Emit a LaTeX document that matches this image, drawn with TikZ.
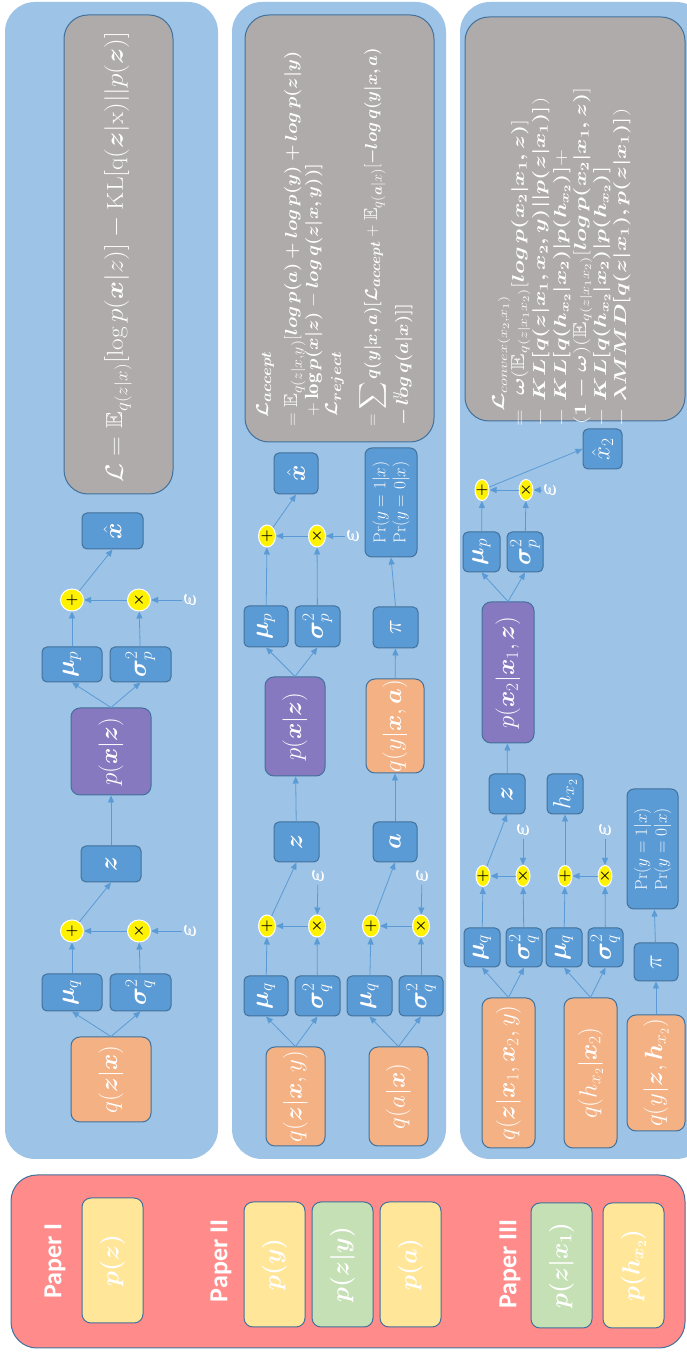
\documentclass[tikz,border=0pt]{standalone}
\usepackage{amsmath,amssymb,bm}
\usepackage{fontspec}
\newfontfamily\papersf{Carlito}
\usetikzlibrary{shapes.geometric, arrows.meta}
\definecolor{panelblue}{HTML}{9DC3E6}
\definecolor{nodeblue}{HTML}{5B9BD5}
\definecolor{edgeblue}{HTML}{41719C}
\definecolor{lossgray}{HTML}{AFABAB}
\definecolor{encorange}{HTML}{F4B183}
\definecolor{decpurple}{HTML}{8679C0}
\definecolor{priorred}{HTML}{FF8B8B}
\definecolor{prioryellow}{HTML}{FFE699}
\definecolor{priorgreen}{HTML}{C5E0B4}
\tikzset{
    wh/.style 2 args={minimum width=#1pt, minimum height=#2pt},
    panel/.style={rectangle, rounded corners=30pt, fill=panelblue, inner sep=0pt},
    lossbox/.style={rectangle, rounded corners=24pt, fill=lossgray, draw=edgeblue, line width=1pt, inner sep=0pt},
    losstext/.style={text=white, inner sep=0pt, anchor=base west},
    varbox/.style={rectangle, rounded corners=5pt, fill=nodeblue, draw=edgeblue, line width=1pt, inner sep=0pt, text=white, font=\fontsize{24}{26}\selectfont},
    encbox/.style={varbox, rounded corners=9pt, fill=encorange, font=\fontsize{23}{24}\selectfont},
    decbox/.style={varbox, rounded corners=9pt, fill=decpurple, font=\fontsize{23}{24}\selectfont},
    probbox/.style={varbox, rounded corners=7pt, align=center, font=\fontsize{17}{20}\selectfont},
    opnode/.style={ellipse, fill=yellow, draw=white, line width=1pt, inner sep=0pt},
    opsign/.style={inner sep=0pt, text=black, font=\fontsize{14}{14}\selectfont},
    plusop/.style={opnode, label={[opsign]center:$\bm{+}$}},
    timesop/.style={opnode, label={[opsign]center:$\bm{\times}$}},
    noise/.style={text=white, inner sep=2pt, font=\fontsize{30}{30}\selectfont},
    flow/.style={-{Triangle[length=7pt, width=6pt]}, nodeblue, line width=0.8pt},
    priorpanel/.style={rectangle, rounded corners=26pt, fill=priorred, draw=edgeblue, line width=1pt, inner sep=0pt},
    priorbox/.style={rectangle, rounded corners=9pt, draw=edgeblue, line width=1pt, wh={125}{61}, inner sep=0pt, text=white, font=\fontsize{24}{26}\selectfont},
    papertag/.style={text=white, inner sep=0pt, font=\papersf\bfseries\fontsize{26}{28}\selectfont},
}

\begin{document}
\begin{tikzpicture}[x=1pt, y=1pt]
\useasboundingbox (0,0) rectangle (686,1354);
\begin{scope}[shift={(686,0)}, rotate=90, transform shape]

% Backgrounds
\node[panel, wh={1157}{213}] (panelI) at (773.5,574.5) {};
\node[panel, wh={1157}{214}] (panelII) at (773.5,347) {};
\node[panel, wh={1157}{246}] (panelIII) at (773.5,103) {};
\node[priorpanel, wh={173}{674}] (priors) at (92.5,338) {};

% Priors per paper
\node[papertag] (tagI) at (93,631) {Paper I};
\node[priorbox, fill=prioryellow] (pz) at (93.5,573.5) {$\bm{p(z)}$};
\node[papertag] (tagII) at (93,465) {Paper II};
\node[priorbox, fill=prioryellow] (py) at (89.5,411.5) {$\bm{p(y)}$};
\node[priorbox, fill=priorgreen] (pzy) at (89.5,343.5) {$\bm{p(z|y)}$};
\node[priorbox, fill=prioryellow] (pa) at (89.5,275.5) {$\bm{p(a)}$};
\node[papertag] (tagIII) at (90,176) {Paper III};
\node[priorbox, fill=priorgreen] (pzxone) at (88.5,124.5) {$\bm{p(z|x_1)}$};
\node[priorbox, fill=prioryellow] (phxtwo) at (88.5,52.5) {$\bm{p(h_{x_2})}$};

% Panel I - VAE
\node[encbox, wh={85}{80}, font=\fontsize{27}{28}\selectfont] (encI) at (274.5,575) {$q(\bm{z}|\bm{x})$};
\node[varbox, wh={37}{60}] (muIq) at (361.5,614) {$\bm{\mu}_q$};
\node[varbox, wh={37}{61}] (sigIq) at (361.5,545.5) {$\bm{\sigma}_q^2$};
\node[plusop, wh={22}{23}] (plusIq) at (423,614) {};
\node[timesop, wh={22}{23}] (timesIq) at (423,547) {};
\node[noise] (epsIq) at (423,496) {$\bm{\varepsilon}$};
\node[varbox, wh={36}{60}] (zI) at (490,575) {$\bm{z}$};
\node[decbox, wh={87}{80}, font=\fontsize{27}{28}\selectfont] (decI) at (602.5,575) {$p(\bm{x}|\bm{z})$};
\node[varbox, wh={35}{60}] (muIp) at (689.5,614) {$\bm{\mu}_p$};
\node[varbox, wh={35}{61}] (sigIp) at (689.5,545.5) {$\bm{\sigma}_p^2$};
\node[plusop, wh={22}{23}] (plusIp) at (754,614) {};
\node[timesop, wh={22}{23}] (timesIp) at (754,547) {};
\node[noise] (epsIp) at (754,496) {$\bm{\varepsilon}$};
\node[varbox, wh={36}{61}] (xhatI) at (823,573.5) {$\hat{\bm{x}}$};
\node[lossbox, wh={479}{109}] (lossI) at (1099.5,567.5) {};
\node[text=white, font=\fontsize{23}{24}\selectfont] (elboI) at (1097,568)
  {\scalebox{1.1}[1]{$\mathcal{L}=\mathbb{E}_{q(z|x)}[\log p(\bm{x}|z)]-\mathrm{KL}[\mathrm{q}(\bm{z}|\mathrm{x})||p(\bm{z})]$}};

\draw[flow] (encI.east) -- (muIq.west);
\draw[flow] (encI.east) -- (sigIq.west);
\draw[flow] (muIq) -- (plusIq);
\draw[flow] (sigIq) -- (timesIq);
\draw[flow] (timesIq) -- (plusIq);
\draw[flow] (epsIq) -- (timesIq);
\draw[flow] (plusIq) -- (zI.west);
\draw[flow] (zI) -- (decI);
\draw[flow] (decI.east) -- (muIp.west);
\draw[flow] (decI.east) -- (sigIp.west);
\draw[flow] (muIp) -- (plusIp);
\draw[flow] (sigIp) -- (timesIp);
\draw[flow] (timesIp) -- (plusIp);
\draw[flow] (epsIp) -- (timesIp);
\draw[flow] (plusIp) -- (xhatI.west);

% Panel II - accept / reject
\node[encbox, wh={99}{59}] (encIIz) at (257.5,390.5) {$q(\bm{z}|\bm{x},y)$};
\node[encbox, wh={99}{59}, font=\fontsize{25}{26}\selectfont] (encIIa) at (257.5,287.5) {$q(a|\bm{x})$};
\node[varbox, wh={40}{44}] (muIIz) at (358,420) {$\bm{\mu}_q$};
\node[varbox, wh={40}{45}] (sigIIz) at (358,368.5) {$\bm{\sigma}_q^2$};
\node[varbox, wh={40}{45}] (muIIa) at (358,316.5) {$\bm{\mu}_q$};
\node[varbox, wh={40}{44}] (sigIIa) at (358,265) {$\bm{\sigma}_q^2$};
\node[plusop, wh={22}{17}] (plusIIz) at (428,419) {};
\node[timesop, wh={22}{17}] (timesIIz) at (428,369) {};
\node[plusop, wh={22}{17}] (plusIIa) at (428,315) {};
\node[timesop, wh={22}{17}] (timesIIa) at (428,265) {};
\node[noise] (epsIIz) at (478,368) {$\bm{\varepsilon}$};
\node[noise] (epsIIa) at (478,264) {$\bm{\varepsilon}$};
\node[varbox, wh={40}{45}] (zII) at (512,389.5) {$\bm{z}$};
\node[varbox, wh={40}{44}] (aII) at (512,291) {$\bm{a}$};
\node[decbox, wh={99}{60}, font=\fontsize{25}{26}\selectfont] (decII) at (627.5,391) {$p(\bm{x}|\bm{z})$};
\node[encbox, wh={94}{58}] (encIIy) at (628,291) {$q(y|\bm{x},\bm{a})$};
\node[varbox, wh={41}{44}] (muIIp) at (727.5,420) {$\bm{\mu}_p$};
\node[varbox, wh={41}{45}] (sigIIp) at (727.5,368.5) {$\bm{\sigma}_p^2$};
\node[varbox, wh={41}{45}] (piII) at (726.5,290.5) {$\pi$};
\node[plusop, wh={22}{17}] (plusIIp) at (818,419) {};
\node[timesop, wh={22}{17}] (timesIIp) at (818,369) {};
\node[noise] (epsIIp) at (818,333) {$\bm{\varepsilon}$};
\node[varbox, wh={41}{44}] (xhatII) at (880.5,390) {$\hat{\bm{x}}$};
\node[probbox, wh={109}{52}] (prII) at (851.5,295) {$\Pr(y=1|x)$\\$\Pr(y=0|x)$};
\node[lossbox, wh={427}{189}] (lossII) at (1125.5,346.5) {};
\begin{scope}[font=\fontsize{19}{19}\selectfont]
\node[losstext] (accI) at (936,418) {\scalebox{1.1}[1]{$\bm{\mathcal{L}_{accept}}$}};
\node[losstext] (accII) at (927,389) {\scalebox{1.1}[1]{$=\mathbb{E}_{q(z|x,y)}[\bm{log\,p(a)+log\,p(y)+log\,p(z|y)}$}};
\node[losstext] (accIII) at (937,368) {\scalebox{1.1}[1]{$+\,\mathbf{log}\,\bm{p(x|z)}-\bm{log\,q(z|x,y))]}$}};
\node[losstext] (rejI) at (937,349) {\scalebox{1.1}[1]{$\bm{\mathcal{L}_{reject}}$}};
\node[losstext] (rejII) at (927,309) {$=\displaystyle\sum_y\bm{q(y|x,a)[\mathcal{L}_{accept}}+\mathbb{E}_{q(\bm{a}|x)}[\bm{-log\,q(y|x,a)}$};
\node[losstext] (rejIII) at (928,278) {\scalebox{1.1}[1]{$\bm{-\,log\,q(a|x)]]}$}};
\end{scope}

\draw[flow] (encIIz.east) -- (muIIz.west);
\draw[flow] (encIIz.east) -- (sigIIz.west);
\draw[flow] (encIIa.east) -- (muIIa.west);
\draw[flow] (encIIa.east) -- (sigIIa.west);
\draw[flow] (muIIz) -- (plusIIz);
\draw[flow] (sigIIz) -- (timesIIz);
\draw[flow] (timesIIz) -- (plusIIz);
\draw[flow] (epsIIz) -- (timesIIz);
\draw[flow] (muIIa) -- (plusIIa);
\draw[flow] (sigIIa) -- (timesIIa);
\draw[flow] (timesIIa) -- (plusIIa);
\draw[flow] (epsIIa) -- (timesIIa);
\draw[flow] (plusIIz) -- (zII.west);
\draw[flow] (plusIIa) -- (aII.west);
\draw[flow] (zII) -- (decII);
\draw[flow] (aII) -- (encIIy);
\draw[flow] (decII.east) -- (muIIp.west);
\draw[flow] (decII.east) -- (sigIIp.west);
\draw[flow] (encIIy) -- (piII);
\draw[flow] (muIIp) -- (plusIIp);
\draw[flow] (sigIIp) -- (timesIIp);
\draw[flow] (timesIIp) -- (plusIIp);
\draw[flow] (epsIIp) -- (timesIIp);
\draw[flow] (plusIIp) -- (xhatII.west);
\draw[flow] (piII.east) -- (prII.west);

% Panel III - convex combination
\node[encbox, wh={150}{53}, font=\fontsize{26}{27}\selectfont] (encIIIz) at (281,177.5) {$q(\bm{z}|\bm{x}_1,\bm{x}_2,y)$};
\node[encbox, wh={150}{53}, font=\fontsize{26}{27}\selectfont] (encIIIh) at (281,95.5) {$q(h_{x_2}|\bm{x}_2)$};
\node[encbox, wh={116}{58}, font=\fontsize{25}{26}\selectfont] (encIIIy) at (281,30) {$q(y|\bm{z},\bm{h}_{x_2})$};
\node[varbox, wh={39}{36}] (muIIIz) at (406.5,204) {$\bm{\mu}_q$};
\node[varbox, wh={39}{36}] (sigIIIz) at (406.5,162) {$\bm{\sigma}_q^2$};
\node[varbox, wh={39}{36}] (muIIIh) at (406.5,122) {$\bm{\mu}_q$};
\node[varbox, wh={39}{35}] (sigIIIh) at (406.5,80.5) {$\bm{\sigma}_q^2$};
\node[varbox, wh={38}{44}] (piIII) at (392,30) {$\pi$};
\node[plusop, wh={21}{14}] (plusIIIz) at (478,203) {};
\node[timesop, wh={21}{14}] (timesIIIz) at (478,163) {};
\node[plusop, wh={21}{14}] (plusIIIh) at (478,121) {};
\node[timesop, wh={21}{14}] (timesIIIh) at (478,81) {};
\node[noise] (epsIIIz) at (524,163) {$\bm{\varepsilon}$};
\node[noise] (epsIIIh) at (524,81) {$\bm{\varepsilon}$};
\node[probbox, wh={120}{51}] (prIII) at (505,33.5) {$\Pr(y=1|x)$\\$\Pr(y=0|x)$};
\node[varbox, wh={40}{36}] (zIII) at (560,179) {$\bm{z}$};
\node[varbox, wh={40}{36}] (hIII) at (560,121) {$h_{x_2}$};
\node[decbox, wh={141}{52}, font=\fontsize{26}{27}\selectfont] (decIII) at (681.5,178) {$p(\bm{x}_2|\bm{x}_1,\bm{z})$};
\node[varbox, wh={40}{37}] (muIIIp) at (802,204.5) {$\bm{\mu}_p$};
\node[varbox, wh={40}{36}] (sigIIIp) at (802,161) {$\bm{\sigma}_p^2$};
\node[plusop, wh={21}{14}] (plusIIIp) at (864,204) {};
\node[timesop, wh={21}{14}] (timesIIIp) at (864,160) {};
\node[noise] (epsIIIp) at (864,136) {$\bm{\varepsilon}$};
\node[varbox, wh={40}{39}] (xhatIII) at (905,83.5) {$\hat{x}_2$};
\node[lossbox, wh={404}{220}] (lossIII) at (1135,111) {};
\begin{scope}[font=\fontsize{18.5}{19}\selectfont]
\node[losstext] (convI) at (942,182) {\scalebox{1.35}[1]{$\bm{\mathcal{L}}_{convex(x_2,x_1)}$}};
\node[losstext] (convII) at (927,162) {\scalebox{1.35}[1]{$=\ \bm{\omega}(\mathbb{E}_{q(z|x_1x_2)}[\bm{log\,p(x_2|x_1,z)}]$}};
\node[losstext] (convIII) at (927,141) {\scalebox{1.35}[1]{$-\ \bm{KL[q(z|x_1,x_2,y)||p(z|x_1)]})$}};
\node[losstext] (convIV) at (927,120) {\scalebox{1.35}[1]{$-\ \bm{KL[q(h_{x_2}|x_2)|p(h_{x_2})]}+$}};
\node[losstext] (convV) at (929,100) {\scalebox{1.35}[1]{$(\bm{1-\omega})(\mathbb{E}_{q(z|x_1x_2)}[\bm{log\,p(x_2|x_1,z)}]$}};
\node[losstext] (convVI) at (927,80) {\scalebox{1.35}[1]{$-\ \bm{KL[q(h_{x_2}|x_2)|p(h_{x_2})]}$}};
\node[losstext] (convVII) at (927,60) {\scalebox{1.35}[1]{$-\ \bm{\lambda MMD[q(z|x_1),p(z|x_1)]})$}};
\end{scope}

\draw[flow] (encIIIz.east) -- (muIIIz.west);
\draw[flow] (encIIIz.east) -- (sigIIIz.west);
\draw[flow] (encIIIh.east) -- (muIIIh.west);
\draw[flow] (encIIIh.east) -- (sigIIIh.west);
\draw[flow] (encIIIy) -- (piIII);
\draw[flow] (piIII) -- (prIII);
\draw[flow] (muIIIz) -- (plusIIIz);
\draw[flow] (sigIIIz) -- (timesIIIz);
\draw[flow] (timesIIIz) -- (plusIIIz);
\draw[flow] (epsIIIz) -- (timesIIIz);
\draw[flow] (muIIIh) -- (plusIIIh);
\draw[flow] (sigIIIh) -- (timesIIIh);
\draw[flow] (timesIIIh) -- (plusIIIh);
\draw[flow] (epsIIIh) -- (timesIIIh);
\draw[flow] (plusIIIz) -- (zIII.west);
\draw[flow] (plusIIIh) -- (hIII);
\draw[flow] (zIII) -- (decIII);
\draw[flow] (decIII.east) -- (muIIIp.west);
\draw[flow] (decIII.east) -- (sigIIIp.west);
\draw[flow] (muIIIp) -- (plusIIIp);
\draw[flow] (sigIIIp) -- (timesIIIp);
\draw[flow] (timesIIIp) -- (plusIIIp);
\draw[flow] (epsIIIp) -- (timesIIIp);
\draw[flow] (plusIIIp) -- (xhatIII.north);

\end{scope}
\end{tikzpicture}
\end{document}
